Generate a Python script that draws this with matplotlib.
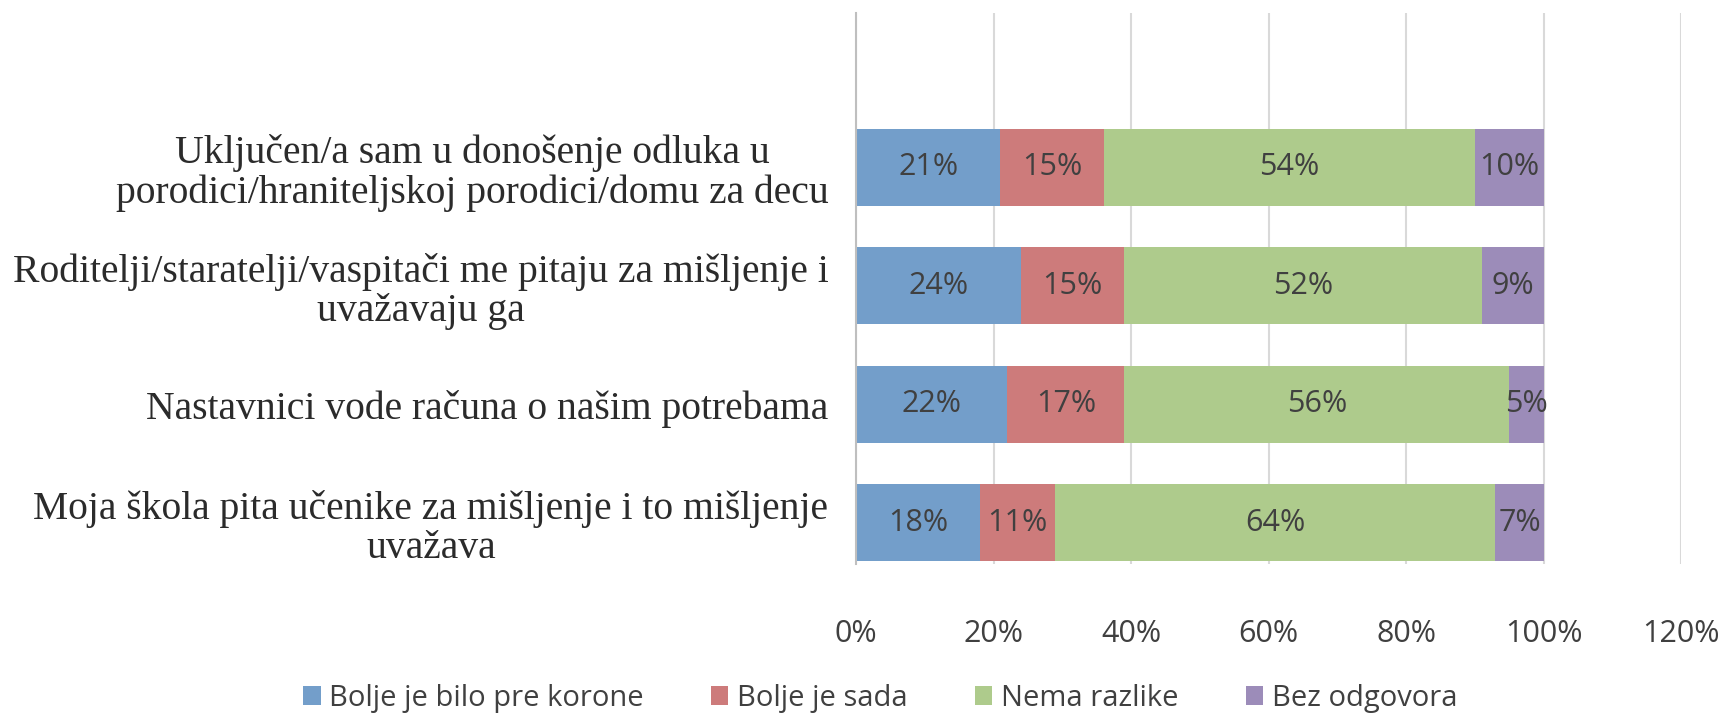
import numpy as np
import matplotlib.pyplot as plt

pitanja = ['Uključen/a sam u donošenje odluka u\nporodici/hraniteljskoj porodici/domu za decu',
           'Roditelji/staratelji/vaspitači me pitaju za mišljenje i\nuvažavaju ga',
           'Nastavnici vode računa o našim potrebama',
           'Moja škola pita učenike za mišljenje i to mišljenje\nuvažava']
serije = ['Bolje je bilo pre korone', 'Bolje je sada', 'Nema razlike', 'Bez odgovora']
pre_korone = [21, 24, 22, 18]
sada = [15, 15, 17, 11]
nema_razlike = [54, 52, 56, 64]
bez_odgovora = [10, 9, 5, 7]
boje = ['#739ECA', '#CD7B7B', '#AECB8C', '#9C8CB9']

sans = ['Open Sans', 'DejaVu Sans']

fig = plt.figure(figsize=(17.26, 7.2), dpi=100)
ax = fig.add_axes([0.496, 0.217, 0.478, 0.765])

y = np.arange(len(pitanja))[::-1]
lijevo = np.zeros(len(pitanja))
for ime, vr, b in zip(serije, [pre_korone, sada, nema_razlike, bez_odgovora], boje):
    vr = np.array(vr)
    bars = ax.barh(y, vr, left=lijevo, height=0.65, color=b, label=ime)
    ax.bar_label(bars, labels=[f'{v}%' for v in vr], label_type='center',
                 fontsize=22, color='#404040', family=sans)
    lijevo += vr

ax.set_xlim(0, 120)
ax.set_ylim(-0.345, 4.3)
ax.set_xticks(np.arange(0, 121, 20))
ax.set_xticklabels([f'{t}%' for t in range(0, 121, 20)], fontsize=22,
                   color='#404040', family=sans)
ax.set_yticks(y)
ax.set_yticklabels(pitanja, fontsize=28.5, family='Liberation Serif',
                   color='#2b2b2b', multialignment='center', linespacing=1.08)
ax.tick_params(axis='y', length=0, pad=20)
ax.tick_params(axis='x', length=0, pad=40)
ax.grid(axis='x', color='#d9d9d9', linewidth=1.5)
ax.set_axisbelow(True)
for s in ['top', 'right', 'bottom']:
    ax.spines[s].set_visible(False)
ax.spines['left'].set_color('#bfbfbf')
ax.spines['left'].set_linewidth(1.5)

fig.legend(loc='center', bbox_to_anchor=(0.51, 0.03), ncol=4, frameon=False,
           handlelength=0.6, handleheight=0.6, handletextpad=0.3,
           columnspacing=2.3, prop={'family': sans, 'size': 21},
           labelcolor='#404040')

plt.savefig('out.png', dpi=100)
